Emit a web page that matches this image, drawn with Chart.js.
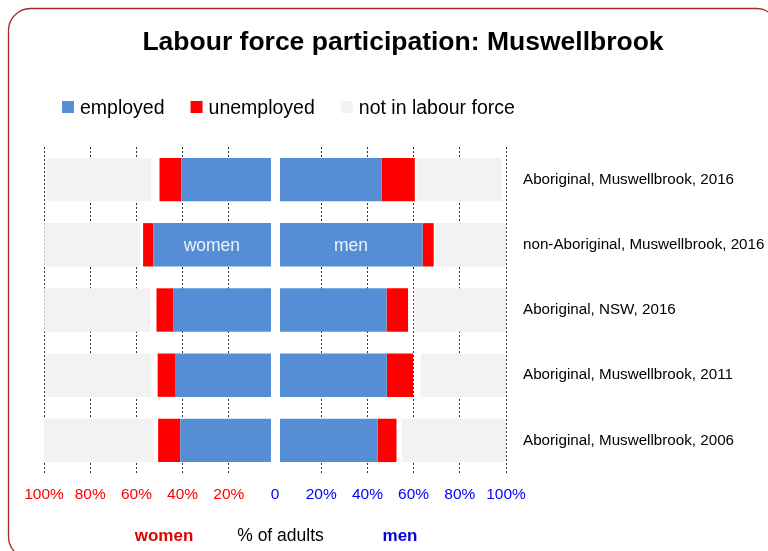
<!DOCTYPE html>
<html>
<head>
<meta charset="utf-8">
<script src="https://cdn.jsdelivr.net/npm/chart.js@4/dist/chart.umd.min.js"></script>
<style>
html,body{margin:0;padding:0;background:#fff;}
#wrap{width:768px;height:551px;position:relative;}
</style>
</head>
<body>
<div id="wrap"><canvas id="c"></canvas></div>
<script>
const titleText = "Labour force participation: Muswellbrook";
const categories = [
  "Aboriginal, Muswellbrook, 2016",
  "non-Aboriginal, Muswellbrook, 2016",
  "Aboriginal, NSW, 2016",
  "Aboriginal, Muswellbrook, 2011",
  "Aboriginal, Muswellbrook, 2006"
];
const seriesNames = ["employed", "unemployed", "not in labour force"];
// percent of adults, women
const womenEmployed   = [40.6, 52.7, 44.1, 43.3, 41.0];
const womenUnemployed = [9.4, 4.4, 7.2, 7.5, 9.6];
const womenNotStated  = [3.6, 1.2, 2.6, 2.7, 1.9];
const womenNotInLF    = [45.1, 41.6, 46.0, 45.8, 47.8];
// percent of adults, men
const menEmployed   = [46.1, 63.9, 48.3, 48.4, 44.4];
const menUnemployed = [14.4, 4.8, 9.3, 11.4, 8.2];
const menNotStated  = [0.7, 0.6, 2.5, 3.2, 2.3];
const menNotInLF    = [37.0, 30.7, 39.9, 37.0, 45.1];
const xTickLabels = ["100%","80%","60%","40%","20%","0","20%","40%","60%","80%","100%"];
const bottomLabels = ["women", "% of adults", "men"];
const innerLabels = ["women", "men"];

const BLUE = '#558ed5', RED = '#ff0000', GREY = '#f2f2f2';
const FONT = '"Liberation Sans", Arial, sans-serif';
const neg = a => a.map(v => -v);

const datasets = [
  {label: seriesNames[0], data: neg(womenEmployed), backgroundColor: BLUE},
  {label: seriesNames[1], data: neg(womenUnemployed), backgroundColor: RED},
  {label: 'not stated', data: neg(womenNotStated), backgroundColor: 'rgba(0,0,0,0)'},
  {label: seriesNames[2], data: neg(womenNotInLF), backgroundColor: GREY},
  {label: seriesNames[0], data: menEmployed, backgroundColor: BLUE},
  {label: seriesNames[1], data: menUnemployed, backgroundColor: RED},
  {label: 'not stated', data: menNotStated, backgroundColor: 'rgba(0,0,0,0)'},
  {label: seriesNames[2], data: menNotInLF, backgroundColor: GREY}
].map(d => Object.assign(d, {stack: 'all', borderWidth: 0, barPercentage: 0.665, categoryPercentage: 1}));

function roundRectPath(ctx, x, y, w, h, r) {
  ctx.beginPath();
  ctx.moveTo(x + r, y);
  ctx.lineTo(x + w - r, y);
  ctx.arcTo(x + w, y, x + w, y + r, r);
  ctx.lineTo(x + w, y + h - r);
  ctx.arcTo(x + w, y + h, x + w - r, y + h, r);
  ctx.lineTo(x + r, y + h);
  ctx.arcTo(x, y + h, x, y + h - r, r);
  ctx.lineTo(x, y + r);
  ctx.arcTo(x, y, x + r, y, r);
  ctx.closePath();
}

const decor = {
  id: 'decor',
  beforeDraw(chart) {
    const ctx = chart.ctx;
    ctx.save();
    ctx.fillStyle = '#fff';
    ctx.fillRect(0, 0, chart.width, chart.height);
    ctx.strokeStyle = '#a62a2a';
    ctx.lineWidth = 1.3;
    roundRectPath(ctx, 8.5, 8.5, 770, 550, 22);
    ctx.stroke();
    // title
    ctx.fillStyle = '#000';
    ctx.font = 'bold 26.5px ' + FONT;
    ctx.textAlign = 'center';
    ctx.textBaseline = 'alphabetic';
    ctx.fillText(titleText, 403, 50);
    // legend
    const colors = [BLUE, RED, GREY];
    ctx.font = '19.5px ' + FONT;
    ctx.textAlign = 'left';
    ctx.textBaseline = 'middle';
    let x = 62;
    const yc = 107;
    seriesNames.forEach((name, i) => {
      ctx.fillStyle = colors[i];
      ctx.fillRect(x, yc - 6, 12, 12);
      ctx.fillStyle = '#000';
      ctx.fillText(name, x + 18, yc + 1.5);
      x += 18 + ctx.measureText(name).width + 26;
    });
    ctx.restore();
  },
  afterDatasetsDraw(chart) {
    const ctx = chart.ctx;
    const a = chart.chartArea;
    const x0 = chart.scales.x.getPixelForValue(0);
    ctx.save();
    ctx.fillStyle = '#fff';
    ctx.fillRect(x0 - 4, a.top, 9, a.bottom - a.top);
    // inner labels on employed bars of row 2
    ctx.fillStyle = '#eef2fa';
    ctx.font = '17.5px ' + FONT;
    ctx.textAlign = 'center';
    ctx.textBaseline = 'middle';
    [0, 4].forEach((di, k) => {
      const el = chart.getDatasetMeta(di).data[1];
      const cx = (el.x + el.base) / 2 + (k === 0 ? -2 : 2);
      ctx.fillText(innerLabels[k], cx, el.y + 1.5);
    });
    ctx.restore();
  },
  afterDraw(chart) {
    const ctx = chart.ctx;
    ctx.save();
    ctx.textAlign = 'center';
    ctx.textBaseline = 'alphabetic';
    ctx.font = 'bold 17px ' + FONT;
    ctx.fillStyle = '#e00000';
    ctx.fillText(bottomLabels[0], 164, 541);
    ctx.font = '17.5px ' + FONT;
    ctx.fillStyle = '#000';
    ctx.fillText(bottomLabels[1], 280.5, 541);
    ctx.font = 'bold 17px ' + FONT;
    ctx.fillStyle = '#0000e0';
    ctx.fillText(bottomLabels[2], 400, 541);
    ctx.restore();
  }
};

new Chart(document.getElementById('c'), {
  type: 'bar',
  data: {labels: categories, datasets},
  options: {
    indexAxis: 'y',
    responsive: true,
    maintainAspectRatio: false,
    animation: false,
    events: [],
    layout: {padding: {top: 147, left: 44, right: 0, bottom: 0}},
    plugins: {legend: {display: false}, title: {display: false}, tooltip: {enabled: false}},
    scales: {
      x: {
        type: 'linear', stacked: true, min: -100, max: 100,
        afterFit(s) { s.height = 78; },
        ticks: {
          stepSize: 20, padding: 12,
          font: {family: FONT, size: 15.5},
          color: c => (c.tick && c.tick.value < 0) ? '#ff0000' : '#0000ff',
          callback: (v, i) => xTickLabels[i]
        },
        grid: {
          drawTicks: false, lineWidth: 1,
          color: c => (c.tick && c.tick.value === 0) ? 'rgba(0,0,0,0)' : '#333333'
        },
        border: {display: false, dash: [2, 2]}
      },
      y: {
        type: 'category', stacked: true, position: 'right',
        afterFit(s) { s.width = 262; },
        ticks: {padding: 17, color: '#000', font: {family: FONT, size: 15.2}},
        grid: {display: false, drawTicks: false},
        border: {display: false}
      }
    }
  },
  plugins: [decor]
});
</script>
</body>
</html>
